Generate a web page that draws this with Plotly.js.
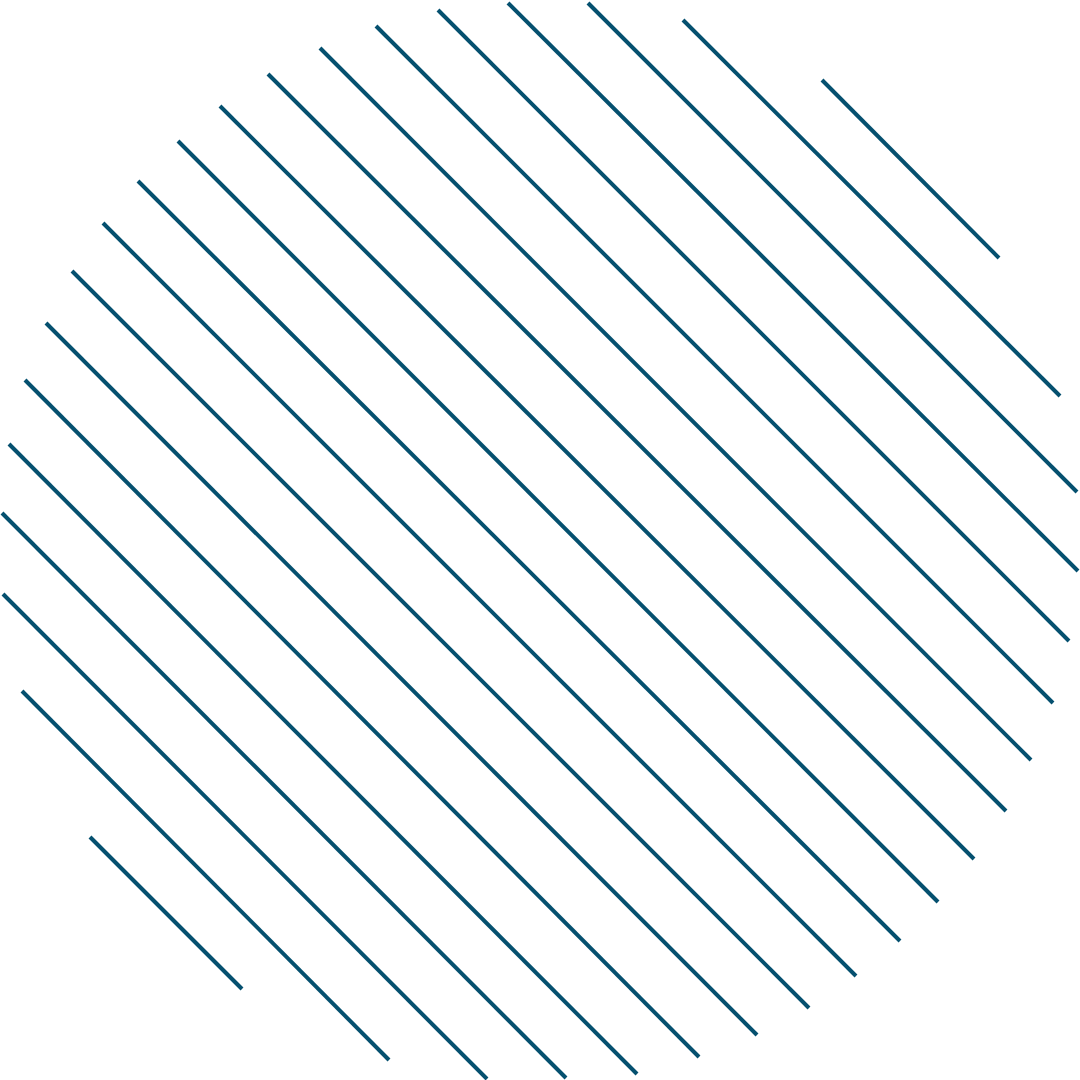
<!DOCTYPE html>
<html>
<head>
<meta charset="utf-8">
<script src="https://cdn.plot.ly/plotly-3.0.1.min.js"></script>
<style>
html, body { margin: 0; padding: 0; background: #ffffff; }
#chart { width: 1080px; height: 1080px; }
</style>
</head>
<body>
<div id="chart"></div>
<script>
// Upper-left end points of each diagonal stroke
const startX = [822, 683, 588, 508, 438, 376, 320, 268, 220, 178, 138, 103, 72, 46, 25, 9, 2, 3, 22, 90];
const startY = [80, 20, 3, 3, 10, 26, 48, 74, 106, 141, 181, 223, 271, 323, 380, 444, 513, 594, 691, 837];
// Lower-right end points of each diagonal stroke
const endX = [999, 1060, 1077, 1078, 1069, 1053, 1031, 1006, 974, 938, 900, 856, 809, 757, 699, 637, 566, 487, 389, 242];
const endY = [258, 396, 492, 571, 641, 703, 760, 811, 859, 902, 941, 976, 1008, 1035, 1057, 1074, 1078, 1079, 1060, 989];

const xs = [], ys = [];
for (let i = 0; i < startX.length; i++) {
  xs.push(startX[i], endX[i], null);
  ys.push(startY[i], endY[i], null);
}

const trace = {
  type: 'scatter',
  mode: 'lines',
  x: xs,
  y: ys,
  connectgaps: false,
  hoverinfo: 'skip',
  line: { color: '#05506f', width: 4 }
};

const layout = {
  width: 1080,
  height: 1080,
  margin: { l: 0, r: 0, t: 0, b: 0, pad: 0 },
  paper_bgcolor: '#ffffff',
  plot_bgcolor: '#ffffff',
  showlegend: false,
  xaxis: { range: [0, 1080], visible: false, showgrid: false, zeroline: false, fixedrange: true },
  yaxis: { range: [1080, 0], visible: false, showgrid: false, zeroline: false, fixedrange: true }
};

Plotly.newPlot('chart', [trace], layout, { staticPlot: true, displayModeBar: false });
</script>
</body>
</html>
